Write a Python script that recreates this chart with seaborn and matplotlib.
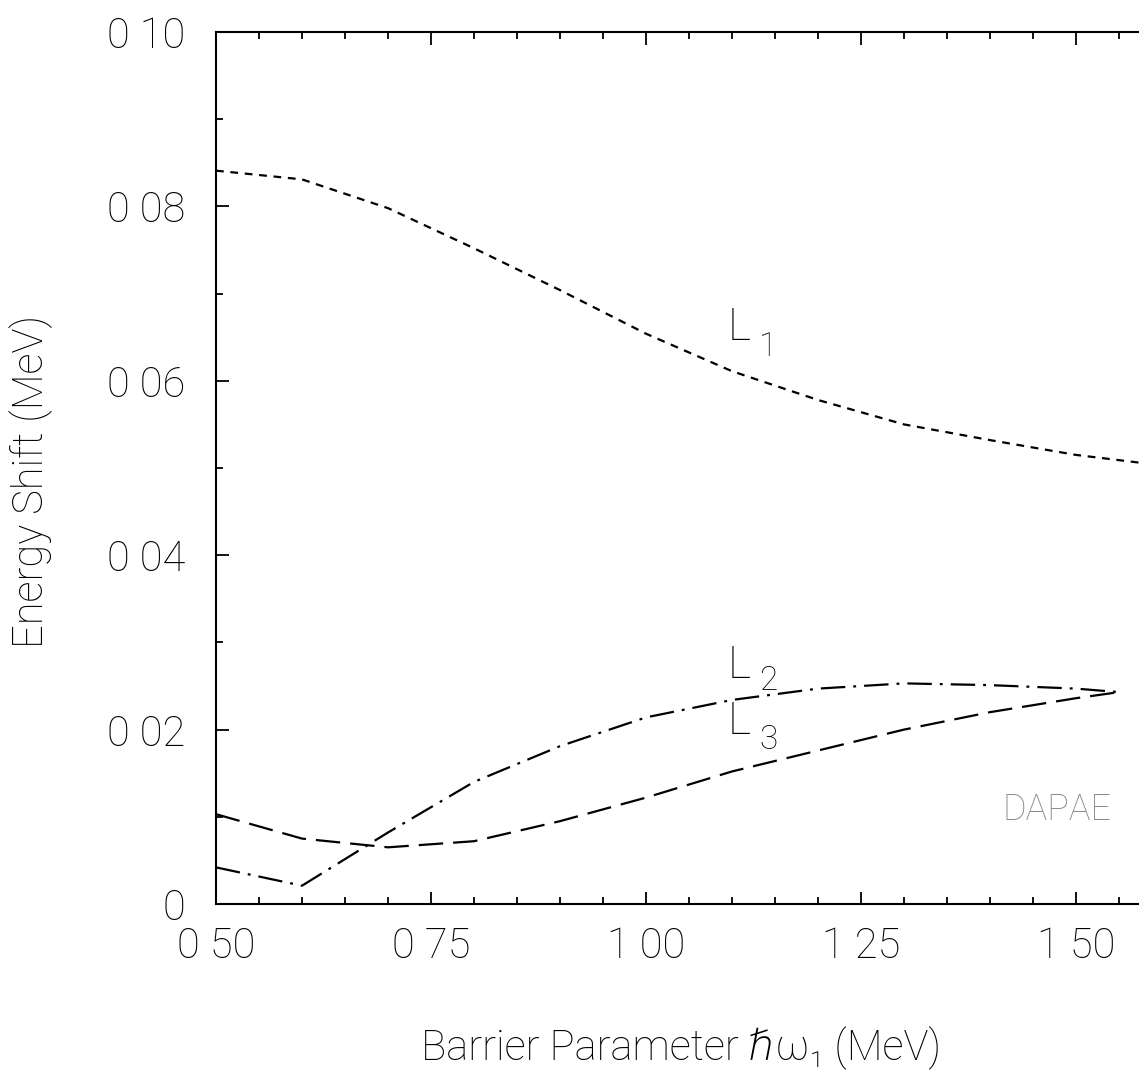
import matplotlib
matplotlib.use("Agg")
import matplotlib.pyplot as plt
import matplotlib.font_manager as fm
import seaborn as sns
from matplotlib.ticker import FixedLocator, FixedFormatter, MultipleLocator

# ---- data ----
x_l1 = [0.50, 0.60, 0.70, 0.80, 0.90, 1.00, 1.10, 1.20, 1.30, 1.40, 1.50, 1.60]
y_l1 = [0.0841, 0.0831, 0.0798, 0.0752, 0.0704, 0.0654, 0.0611, 0.0578, 0.0550, 0.0532, 0.0515, 0.0503]

x_l23 = [0.50, 0.60, 0.70, 0.80, 0.90, 1.00, 1.10, 1.20, 1.30, 1.40, 1.50, 1.55]
y_l2 = [0.0042, 0.0021, 0.0082, 0.0140, 0.0181, 0.0214, 0.0234, 0.0247, 0.0253, 0.0251, 0.0247, 0.0243]
y_l3 = [0.0103, 0.0075, 0.0065, 0.0072, 0.0095, 0.0122, 0.0152, 0.0176, 0.0200, 0.0220, 0.0236, 0.0243]

x_ticks = [0.50, 0.75, 1.00, 1.25, 1.50]
x_ticklabels = ["0 50", "0 75", "1 00", "1 25", "1 50"]
y_ticks = [0.0, 0.02, 0.04, 0.06, 0.08, 0.10]
y_ticklabels = ["0", "0 02", "0 04", "0 06", "0 08", "0 10"]

sns.set_theme(style="white")
avail = {f.name for f in fm.fontManager.ttflist}
if "Roboto" in avail:
    fam = ["Roboto", "DejaVu Sans"]
else:
    fam = ["Liberation Sans", "DejaVu Sans"]
plt.rcParams["font.family"] = fam
plt.rcParams["font.weight"] = "light"
plt.rcParams["axes.labelweight"] = "light"

W, H = 1139, 1086
fig = plt.figure(figsize=(W / 100, H / 100), dpi=100)
left_px, right_px, top_px, bot_px = 216, 1162, 32, 904
ax = fig.add_axes([left_px / W, 1 - bot_px / H, (right_px - left_px) / W, (bot_px - top_px) / H])

lw = 1.6
sns.lineplot(x=x_l1, y=y_l1, ax=ax, color="black", linewidth=lw, estimator=None, sort=False)
ax.lines[-1].set_dashes((3.5, 3.0))
sns.lineplot(x=x_l23, y=y_l2, ax=ax, color="black", linewidth=lw, estimator=None, sort=False)
ax.lines[-1].set_dashes((11, 3.6, 1.3, 3.6))
sns.lineplot(x=x_l23, y=y_l3, ax=ax, color="black", linewidth=lw, estimator=None, sort=False)
ax.lines[-1].set_dashes((11, 4.5))

ax.set_xlim(0.5, 1.6)
ax.set_ylim(0.0, 0.10)

for s in ["left", "bottom", "top"]:
    ax.spines[s].set_visible(True)
    ax.spines[s].set_color("black")
    ax.spines[s].set_linewidth(1.5)
ax.spines["right"].set_visible(False)

ax.xaxis.set_major_locator(FixedLocator(x_ticks))
ax.xaxis.set_major_formatter(FixedFormatter(x_ticklabels))
ax.xaxis.set_minor_locator(MultipleLocator(0.05))
ax.yaxis.set_major_locator(FixedLocator(y_ticks))
ax.yaxis.set_major_formatter(FixedFormatter(y_ticklabels))
ax.yaxis.set_minor_locator(MultipleLocator(0.01))

ax.tick_params(axis="both", which="both", direction="in", color="black", width=1.3)
ax.tick_params(axis="x", which="both", top=True, bottom=True)
ax.tick_params(axis="y", which="both", left=True, right=False)
ax.tick_params(which="major", length=9)
ax.tick_params(which="minor", length=5)
ax.tick_params(axis="y", which="major", labelsize=30, pad=22, labelcolor="black")
ax.tick_params(axis="x", which="major", labelsize=30, pad=16, labelcolor="black")

ax.set_xlabel("Barrier Parameter \u210f\u03c9\u2081 (MeV)", fontsize=30, color="black")
ax.xaxis.set_label_coords(0.492, -0.14)
ax.set_ylabel("Energy Shift (MeV)", fontsize=30, color="black")
ax.yaxis.set_label_coords(-0.172, 0.484)

# curve labels
ax.text(1.108, 0.0661, "L", fontsize=32, color="black", ha="center", va="center")
ax.text(1.142, 0.0639, "1", fontsize=24, color="black", ha="center", va="center")
ax.text(1.108, 0.0273, "L", fontsize=32, color="black", ha="center", va="center")
ax.text(1.142, 0.0256, "2", fontsize=24, color="black", ha="center", va="center")
ax.text(1.108, 0.0209, "L", fontsize=32, color="black", ha="center", va="center")
ax.text(1.142, 0.0188, "3", fontsize=24, color="black", ha="center", va="center")

ax.text(1.478, 0.0108, "DAPAE", fontsize=26, color="#8a8a8a", ha="center", va="center")

fig.savefig("out.png", dpi=100)
